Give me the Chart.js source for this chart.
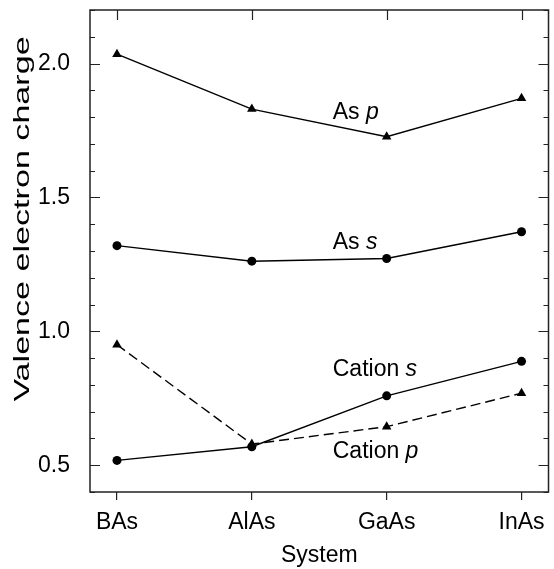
<!DOCTYPE html>
<html>
<head>
<meta charset="utf-8">
<script src="https://cdn.jsdelivr.net/npm/chart.js@4"></script>
<style>
  html, body { margin: 0; padding: 0; background: #fff; }
  #wrap { width: 554px; height: 569px; }
</style>
</head>
<body>
<div id="wrap"><canvas id="chart" width="554" height="569"></canvas></div>
<script>
// valori
const categories = ['BAs', 'AlAs', 'GaAs', 'InAs'];
const asP = [2.035, 1.83, 1.727, 1.87];
const asS = [1.32, 1.262, 1.272, 1.372];
const cationS = [0.518, 0.569, 0.759, 0.888];
const cationP = [0.95, 0.579, 0.644, 0.769];
const yTickLabels = [0.5, 1.0, 1.5, 2.0];

// etichette delle curve: testo normale + lettera in corsivo
const curveLabels = [
  { text: 'As ', italic: 'p', x: 1.6, y: 1.815 },
  { text: 'As ', italic: 's', x: 1.6, y: 1.33 },
  { text: 'Cation ', italic: 's', x: 1.6, y: 0.856 },
  { text: 'Cation ', italic: 'p', x: 1.6, y: 0.55 }
];
const yTitle = 'Valence electron charge';

const FONT = "'Liberation Sans', Arial, Helvetica, sans-serif";

function toPoints(arr) {
  return arr.map((v, i) => ({ x: i, y: v }));
}

function serie(values, style, dashed) {
  return {
    data: toPoints(values),
    borderColor: '#000',
    backgroundColor: '#000',
    borderWidth: 1.4,
    borderDash: dashed ? [10, 5] : [],
    pointStyle: style,
    pointRadius: style === 'triangle' ? 5.5 : 4.5,
    pointBorderWidth: 0,
    tension: 0
  };
}

// cornice, tacche interne, etichette e titolo asse y (allungato come nell'originale)
const framePlugin = {
  id: 'frame',
  afterDraw(chart) {
    const ctx = chart.ctx;
    const a = chart.chartArea;
    const xs = chart.scales.x;
    const ys = chart.scales.y;
    ctx.save();
    ctx.strokeStyle = '#222';
    ctx.lineWidth = 1.5;
    ctx.strokeRect(a.left, a.top, a.right - a.left, a.bottom - a.top);

    ctx.lineWidth = 1.2;
    ctx.beginPath();
    for (let i = 4; i <= 22; i++) {
      const v = i / 10;
      const py = Math.round(ys.getPixelForValue(v)) + 0.5;
      const len = (i % 5 === 0) ? 10 : 5;
      ctx.moveTo(a.left, py); ctx.lineTo(a.left + len, py);
      ctx.moveTo(a.right, py); ctx.lineTo(a.right - len, py);
    }
    categories.forEach((c, i) => {
      const px = Math.round(xs.getPixelForValue(i)) + 0.5;
      ctx.moveTo(px, a.top); ctx.lineTo(px, a.top + 10);
    });
    ctx.stroke();

    ctx.fillStyle = '#000';
    ctx.textBaseline = 'middle';
    ctx.textAlign = 'left';
    curveLabels.forEach(l => {
      const px = xs.getPixelForValue(l.x);
      const py = ys.getPixelForValue(l.y);
      ctx.font = '23px ' + FONT;
      ctx.fillText(l.text, px, py);
      const w = ctx.measureText(l.text).width;
      ctx.font = 'italic 23px ' + FONT;
      ctx.fillText(l.italic, px + w, py);
    });

    ctx.translate(23, 219);
    ctx.rotate(-Math.PI / 2);
    ctx.scale(1.55, 1);
    ctx.textAlign = 'center';
    ctx.font = '22px ' + FONT;
    ctx.fillText(yTitle, 0, 0);
    ctx.restore();
  }
};

const ctx = document.getElementById('chart').getContext('2d');
new Chart(ctx, {
  type: 'line',
  data: {
    datasets: [
      serie(asP, 'triangle', false),
      serie(asS, 'circle', false),
      serie(cationS, 'circle', false),
      serie(cationP, 'triangle', true)
    ]
  },
  options: {
    responsive: false,
    animation: false,
    layout: { padding: { top: 10, right: 1, left: 0, bottom: 0 } },
    plugins: { legend: { display: false }, tooltip: { enabled: false } },
    scales: {
      x: {
        type: 'linear',
        min: -0.2,
        max: 3.2,
        afterBuildTicks: s => { s.ticks = categories.map((c, i) => ({ value: i })); },
        afterFit: s => { s.height = 77; s.paddingLeft = 0; s.paddingRight = 0; },
        grid: { drawOnChartArea: false, drawTicks: true, tickLength: 8, color: '#222', lineWidth: 1.2 },
        border: { display: false },
        ticks: {
          padding: 9,
          color: '#000',
          font: { family: FONT, size: 23 },
          maxRotation: 0,
          callback: v => categories[v]
        },
        title: {
          display: true,
          text: 'System',
          color: '#000',
          font: { family: FONT, size: 23 },
          padding: { top: 0, bottom: 0 }
        }
      },
      y: {
        type: 'linear',
        min: 0.4,
        max: 2.2,
        afterBuildTicks: s => { s.ticks = yTickLabels.map(v => ({ value: v })); },
        afterFit: s => { s.width = 90; s.paddingTop = 0; s.paddingBottom = 0; },
        grid: { display: false },
        border: { display: false },
        ticks: {
          padding: 12,
          color: '#000',
          font: { family: FONT, size: 23 },
          callback: v => v.toFixed(1)
        },
        title: { display: false }
      }
    }
  },
  plugins: [framePlugin]
});
</script>
</body>
</html>
